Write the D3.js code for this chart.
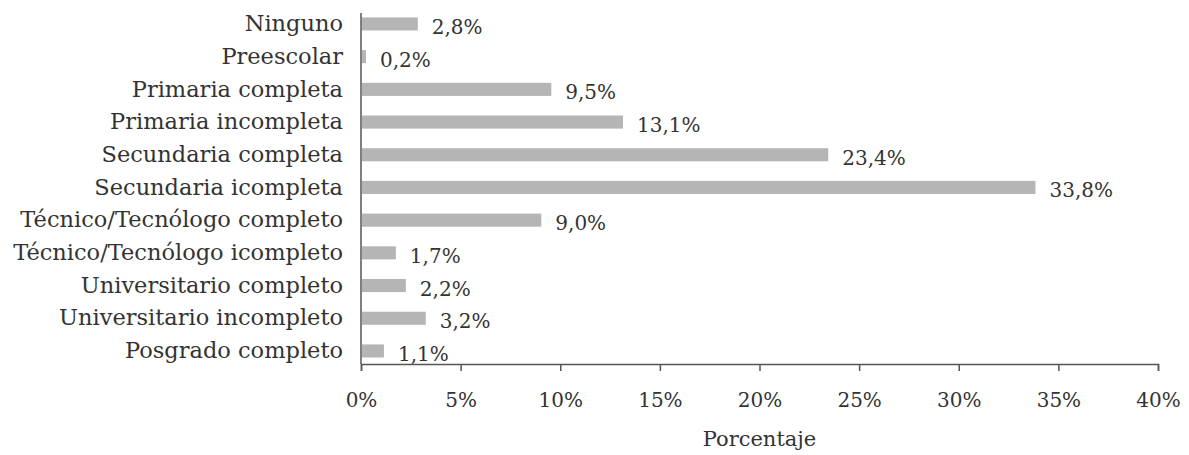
<!DOCTYPE html>
<html>
<head>
<meta charset="utf-8">
<script src="https://cdn.jsdelivr.net/npm/d3@7"></script>
<style>
  body { margin: 0; background: #fff; }
  text { font-family: "DejaVu Serif", serif; fill: #333; }
</style>
</head>
<body>
<div id="chart"></div>
<script>
// categorías (de arriba hacia abajo)
const categories = [
    'Ninguno',
    'Preescolar',
    'Primaria completa',
    'Primaria incompleta',
    'Secundaria completa',
    'Secundaria icompleta',
    'Técnico/Tecnólogo completo',
    'Técnico/Tecnólogo icompleto',
    'Universitario completo',
    'Universitario incompleto',
    'Posgrado completo'
];

// porcentajes
const values = [2.8, 0.2, 9.5, 13.1, 23.4, 33.8, 9.0, 1.7, 2.2, 3.2, 1.1];

const xTicks = [0, 5, 10, 15, 20, 25, 30, 35, 40];
const xTitle = 'Porcentaje';

const width = 1189;
const height = 455;
const margin = { left: 361, right: 31, top: 13, bottom: 91 };

const data = categories.map((c, i) => ({ cat: c, value: values[i] }));

const svg = d3.select('#chart')
    .append('svg')
    .attr('width', width)
    .attr('height', height);

const x = d3.scaleLinear()
    .domain([0, 40])
    .range([margin.left, width - margin.right]);

const y = d3.scaleBand()
    .domain(categories)
    .range([7.6, 367.3])
    .paddingInner(0.6)
    .paddingOuter(0.3);

const fmt = v => `${d3.format('.1f')(v).replace('.', ',')}%`;

// eje x
const xAxis = d3.axisBottom(x)
    .tickValues(xTicks)
    .tickSize(7)
    .tickPadding(22)
    .tickFormat(d => `${d}%`);

const gx = svg.append('g')
    .attr('transform', `translate(0, ${height - margin.bottom})`)
    .call(xAxis);

gx.select('.domain').attr('stroke', '#555').attr('stroke-width', 1.5);
gx.selectAll('.tick line').attr('stroke', '#555').attr('stroke-width', 1.5);
gx.selectAll('.tick text')
    .attr('font-size', 20)
    .attr('fill', '#333')
    .style('font-family', '"DejaVu Serif", serif');

// eje y
const yAxis = d3.axisLeft(y)
    .tickSize(0)
    .tickPadding(18);

const gy = svg.append('g')
    .attr('transform', `translate(${margin.left}, 0)`)
    .call(yAxis);

gy.select('.domain').remove();
gy.selectAll('.tick text')
    .attr('font-size', 22.5)
    .attr('fill', '#333')
    .style('font-family', '"DejaVu Serif", serif');

svg.append('line')
    .attr('x1', margin.left)
    .attr('x2', margin.left)
    .attr('y1', margin.top)
    .attr('y2', height - margin.bottom)
    .attr('stroke', '#555')
    .attr('stroke-width', 1.5);

// barras
svg.append('g')
    .selectAll('rect')
    .data(data)
    .enter()
    .append('rect')
    .attr('x', x(0) + 1)
    .attr('y', d => y(d.cat))
    .attr('width', d => x(d.value) - x(0))
    .attr('height', y.bandwidth())
    .attr('fill', '#b5b5b5');

// etiquetas
svg.append('g')
    .selectAll('text')
    .data(data)
    .enter()
    .append('text')
    .attr('x', d => x(d.value) + 15)
    .attr('y', d => y(d.cat) + y.bandwidth() / 2 + 3)
    .attr('dy', '0.35em')
    .attr('font-size', 20)
    .text(d => fmt(d.value));

svg.append('text')
    .attr('x', (x(0) + x(40)) / 2)
    .attr('y', 446)
    .attr('text-anchor', 'middle')
    .attr('font-size', 21)
    .text(xTitle);
</script>
</body>
</html>
